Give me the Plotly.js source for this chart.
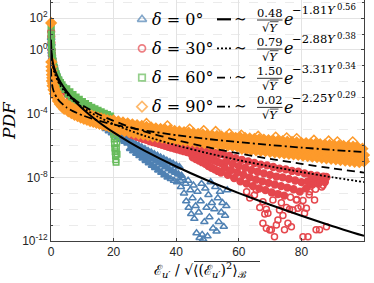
<!DOCTYPE html>
<html><head><meta charset="utf-8">
<script src="https://cdn.plot.ly/plotly-3.0.1.min.js"></script>
<style>html,body{margin:0;padding:0;background:#fff}#chart{width:374px;height:283px}</style>
</head><body><div id="chart"></div>
<script>
// ---------- data (x = E/sqrt<E^2>, value = log10(PDF)) ----------
const X_TICKS = [0, 20, 40, 60, 80, 100];
const Y_TICK_EXP = [-12, -8, -4, 0, 2];
const Y_TICK_TEXT = ['10<sup>-12</sup>', '10<sup>-8</sup>', '10<sup>-4</sup>', '10<sup>0</sup>', '10<sup>2</sup>'];
const Y_MINOR_EXP = [-11, -10, -9, -7, -6, -5, -3, -2, -1, 1, 3];

const SERIES_NAMES = ['δ = 0°', 'δ = 30°', 'δ = 60°', 'δ = 90°'];
const FIT_COEF = ['0.48', '0.79', '1.50', '0.02'];
const FIT_RATE = ['1.81', '2.88', '3.31', '2.25'];
const FIT_POW = ['0.56', '0.38', '0.34', '0.29'];

const FIT_X = [0.02,0.05,0.1,0.2,0.5,1,2,3,5,7,10,15,20,25,30,40,50,60,70,80,90,100];
const FIT_0_LOG = [0.44,0.18,-0.03,-0.29,-0.70,-1.10,-1.63,-2.01,-2.60,-3.08,-3.67,-4.49,-5.18,-5.79,-6.34,-7.32,-8.20,-8.99,-9.72,-10.41,-11.07,-11.68];
const FIT_30_LOG = [0.46,0.15,-0.12,-0.43,-0.91,-1.35,-1.88,-2.24,-2.76,-3.15,-3.60,-4.19,-4.66,-5.05,-5.40,-5.99,-6.48,-6.92,-7.31,-7.67,-8.00,-8.30];
const FIT_60_LOG = [0.65,0.31,0.02,-0.31,-0.81,-1.26,-1.79,-2.15,-2.66,-3.03,-3.47,-4.02,-4.45,-4.82,-5.13,-5.66,-6.11,-6.50,-6.84,-7.15,-7.44,-7.70];
const FIT_90_LOG = [-1.16,-1.46,-1.70,-1.96,-2.35,-2.68,-3.04,-3.28,-3.61,-3.84,-4.10,-4.43,-4.68,-4.88,-5.06,-5.35,-5.59,-5.79,-5.97,-6.13,-6.28,-6.41];

// dense part of each histogram (drawn as a solid band) and its sparse outliers
const CORE_0 = [
[0.05,0.75],[0.1,0.4],[0.15,0.1],[0.2,-0.1],[0.3,-0.3],[0.4,-0.45],[0.6,-0.7],[0.8,-0.9],[1.0,-1.0],[1.3,-1.25],[1.6,-1.4],[2.0,-1.6],[2.5,-1.8],[3.0,-2.0],[3.5,-2.15],[4.0,-2.3],[4.5,-2.45],
[5,-2.5],[5.5,-2.83],[6,-2.75],[6.5,-3.05],[7,-2.98],[7.5,-3.28],[8,-3.19],[8.5,-3.49],[9,-3.39],[9.5,-3.68],[10,-3.57],[10.5,-3.86],[11,-3.75],[11.5,-4.03],[12,-3.92],[12.5,-4.2],[13,-4.09],[13.5,-4.36],[14,-4.24],[14.5,-4.52],[15,-4.39],[15.5,-4.67],[16,-4.54],[16.5,-4.81],[17,-4.68],[17.5,-4.95],[18,-4.82],[18.5,-5.09],[19,-4.95],[19.5,-5.22],[20,-5.08],[20.5,-5.36],[21,-5.2],[21.5,-5.5],[22,-5.32],[22.5,-5.62],[23,-5.45],[23.5,-5.75],[24,-5.57],[24.5,-5.85],
[25,-5.69],[25.3,-6.2],[25.7,-5.95],[26,-5.8],[26.3,-6.35],[26.7,-6.08],[27,-5.91],[27.3,-6.5],[27.7,-6.2],[28,-6.02],[28.3,-6.65],[28.7,-6.35],[29,-6.13],[29.3,-6.8],[29.7,-6.47],[30,-6.24],[30.3,-6.95],[30.7,-6.6],[31,-6.34],[31.3,-7.1],[31.7,-6.72],[32,-6.44],[32.3,-7.25],[32.7,-6.85],[33,-6.55],[33.3,-7.4],[33.7,-6.98],[34,-6.65],[34.3,-7.55],[34.7,-7.1],[35,-6.75],[35.3,-7.7],[35.7,-7.22],[36,-6.85],[36.3,-7.85],[36.7,-7.35],[37,-6.95],[37.3,-8.0],[37.7,-7.48],[38,-7.05],[38.7,-7.6],[39,-7.15],[39.7,-7.7],[40,-7.25],[40.7,-7.8],[41,-7.35],[41.7,-7.9]
];
const TAIL_0 = [
[38.3,-8.1],[39.3,-8.2],[40.3,-8.3],[41.3,-8.2],
[41.5,-8.6],[42,-8.05],[42.5,-9.0],[43,-8.4],[43.2,-9.5],[43.8,-8.2],[44,-9.9],[44.5,-8.8],[44.8,-10.3],[45.2,-9.3],[45.5,-8.5],[45.8,-10.6],[46.2,-9.8],[46.5,-11.5],[46.8,-8.9],[47.2,-10.2],[47.5,-11.8],[47.8,-9.5],[48.1,-8.4],[48.3,-11.6],[48.6,-11.9],[49,-10.8],[49.3,-8.7],[49.7,-9.9],[50,-11.7],[50.3,-9.1],[50.6,-10.5],[51,-8.3],[51.4,-9.6],[51.8,-11.2],[52.2,-10.0],[52.5,-8.6],[52.9,-11.4],[53.3,-9.3],[53.6,-10.8],[54,-8.9],[54.4,-10.2],[54.8,-9.6],[55.2,-11.1],[55.6,-10.4],[56,-9.8],[56.3,-8.8]
];

const CORE_30 = [
[0.05,1.15],[0.08,0.85],[0.12,0.45],[0.2,0.0],[0.3,-0.3],[0.45,-0.65],[0.6,-0.85],[0.8,-1.05],[1.0,-1.25],[1.3,-1.45],[1.6,-1.6],[2.0,-1.8],[2.5,-2.0],[3,-2.15],[3.5,-2.35],[4,-2.45],[4.5,-2.6],
[5,-2.7],[6,-3.1],[7,-3.08],[8,-3.45],[9,-3.4],[10,-3.75],[11,-3.65],[12,-4.0],[13,-3.9],[14,-4.25],[15,-4.12],[16,-4.45],[17,-4.32],[18,-4.63],[19,-4.5],[20,-4.82],[21,-4.67],[22,-4.98],[23,-4.83],[24,-5.13],
[25,-4.95],[25.5,-5.3],[26,-5.0],[26.5,-5.37],[27,-5.07],[27.5,-5.45],[28,-5.14],[28.5,-5.52],[29,-5.21],[29.5,-5.59],[30,-5.28],[30.5,-5.65],[31,-5.34],[31.5,-5.72],[32,-5.41],[32.5,-5.78],[33,-5.47],[33.5,-5.84],[34,-5.53],[34.5,-5.9],[35,-5.59],[35.5,-5.96],[36,-5.65],[36.5,-6.02],[37,-5.71],[37.5,-6.08],[38,-5.77],[38.5,-6.14],[39,-5.82],[39.5,-6.19],[40,-5.87],[40.5,-6.25],[41,-5.92],[41.5,-6.3],[42,-5.97],[42.5,-6.36],[43,-6.02],[43.5,-6.41],[44,-6.07],[44.5,-6.47],[45,-6.12],[45.5,-6.52],[46,-6.17],[46.5,-6.58],[47,-6.22],[47.5,-6.64],[48,-6.27],[48.5,-6.7],[49,-6.32],[49.5,-6.76],[50,-6.36],[50.5,-6.83],[51,-6.41],[51.5,-6.9],[52,-6.45],[52.5,-6.97],[53,-6.5],[53.5,-7.05],[54,-6.54],[54.5,-7.12],
[45.3,-6.75],[46.3,-6.85],[47.3,-6.95],[48.3,-7.05],[49.3,-7.15],[50.3,-7.3],[51.3,-7.4],[52.3,-7.5],[53.3,-7.6],[54.3,-7.7],
[55,-6.55],[55.5,-7.4],[56,-7.0],[56.5,-7.85],[57,-6.65],[57.5,-7.55],[58,-7.15],[58.5,-8.05],[59,-6.8],[59.5,-7.7],[60,-7.3],[60.5,-8.25],[61,-6.9],[61.5,-7.85],[62,-7.4],[62.5,-8.4],[63,-7.0],[63.5,-8.0],[64,-7.55],[64.5,-8.55],[65,-7.1],[65.5,-8.15],[66,-7.65],[66.5,-8.7],[67,-7.2],[67.5,-8.25],[68,-7.75],[68.5,-8.8],[69,-7.25],[69.5,-8.35],[70,-7.85],[70.5,-8.95],[71,-7.35],[71.5,-8.45],[72,-7.95],[72.5,-9.05],[73,-7.45],[73.5,-8.55],[74,-8.0],[74.5,-9.15],[75,-7.5],[75.5,-8.65],[76,-8.1],[77,-7.6],[77.5,-8.75],[78,-8.2],[79,-7.65],[79.5,-8.9],[80,-8.3],[81,-7.75],[81.5,-8.7],[82,-8.25],[83,-7.85],[83.5,-8.45],[84,-8.2],[85,-7.9],[85.5,-8.4],[86,-8.15],[87,-7.95],[87.5,-8.3],[88,-8.0]
];
const TAIL_30 = [
[76.5,-9.25],[78.5,-9.4],[80.5,-9.45],[82.5,-9.1],[84.5,-8.75],[86.5,-8.6],
[62.5,-8.9],[63.5,-9.3],[65.0,-9.11],[65.6,-8.79],[66.7,-9.9],[67.7,-10.89],[67.7,-9.53],[68.3,-10.3],[68.8,-11.2],[68.8,-10.0],[69.3,-10.26],[69.9,-11.31],[70.4,-11.3],[70.9,-9.42],[71.4,-11.73],[72.0,-10.99],[72.5,-10.68],[73.0,-10.05],[73.6,-9.6],[74.1,-10.4],[74.6,-11.3],[75.2,-9.9],[75.7,-10.89],[76.2,-10.0],[76.8,-11.1],[77.3,-10.05],[78.4,-9.42],[78.9,-9.95],[79.9,-9.84],[80.5,-11.73],[81.0,-10.26],[81.6,-9.95],[82.1,-11.73],[82.6,-8.9],[83.1,-8.37],[84.2,-9.42],[84.7,-11.3],[84.7,-7.95],[85.8,-11.3],[86.3,-8.16],[86.9,-8.5],[87.9,-7.95],[88.0,-11.1]
];

const CORE_60 = [
[0.05,1.5],[0.08,1.0],[0.12,0.55],[0.2,0.15],[0.3,-0.15],[0.45,-0.5],[0.6,-0.7],[0.8,-0.95],[1.0,-1.1],[1.3,-1.35],[1.6,-1.5],[2.0,-1.7],[2.5,-1.9],[3.0,-2.05],[3.5,-2.2],[4.0,-2.35],[4.5,-2.48],
[5,-2.44],[5.5,-2.77],[6,-2.64],[6.5,-2.96],[7,-2.81],[7.5,-3.13],[8,-2.97],[8.5,-3.28],[9,-3.11],[9.5,-3.42],[10,-3.25],[10.5,-3.55],[11,-3.37],[11.5,-3.67],[12,-3.49],[12.5,-3.78],[13,-3.6],[13.5,-3.89],[14,-3.7],[14.5,-3.99],[15,-3.8],[15.5,-4.08],[16,-3.89],[16.5,-4.17],[17,-3.98],[17.5,-4.26],[18,-4.07],[18.5,-4.35],[19,-4.15],[19.5,-4.45]
];
const TAIL_60 = [
[19.7,-4.7],[19.9,-5.0],[20.0,-5.3],[20.2,-5.6],[20.3,-5.9],[20.4,-6.15],[20.5,-6.4],[20.6,-6.65],[20.7,-6.9],[20.8,-7.05],[20.9,-6.2],[21.0,-5.8],[20.6,-5.45],[21.1,-6.55]
];

const CORE_90 = [
[0.05,1.7],[0.1,-0.75],[0.15,-1.05],[0.2,-1.3],[0.3,-1.55],[0.4,-1.75],[0.55,-1.95],[0.7,-2.1],[0.9,-2.3],[1.1,-2.45],[1.4,-2.6],[1.7,-2.75],[2.0,-2.85],[2.5,-3.0],[3.0,-3.15],[3.5,-3.3],[4.0,-3.42],[4.5,-3.55],
[0.3,-1.95],[0.5,-2.25],[0.8,-2.5],[1.2,-2.75],[1.6,-2.95],[2.2,-3.2],[2.8,-3.4],[3.5,-3.55],[4.2,-3.7],
[5,-3.43],[5.5,-3.85],[6,-3.55],[6.5,-3.97],[7,-3.66],[7.5,-4.07],[8,-3.75],[8.5,-4.15],[9,-3.84],[9.5,-4.24],[10,-3.92],[10.5,-4.32],[11,-3.99],[11.5,-4.39],[12,-4.06],[12.5,-4.46],[13,-4.13],[13.5,-4.52],[14,-4.19],[14.5,-4.58],[15,-4.25],[15.5,-4.64],[16,-4.3],[16.5,-4.69],[17,-4.36],[17.5,-4.74],[18,-4.41],[18.5,-4.79],[19,-4.45],[19.5,-4.84],
[20,-4.43],[20.5,-4.98],[21,-4.74],[21.5,-4.49],[22,-5.04],[22.5,-4.80],[23,-4.55],[23.5,-5.10],[24,-4.86],[24.5,-4.61],[25,-5.16],[25.5,-4.92],[26,-4.67],[26.5,-5.21],[27,-4.97],[27.5,-4.72],[28,-5.27],[28.5,-5.03],[29,-4.77],[29.5,-5.32],[30,-5.08],[30.5,-4.83],[31,-5.37],[31.5,-5.13],[32,-4.87],[32.5,-5.42],[33,-5.17],[33.5,-4.92],[34,-5.46],[34.5,-5.22],[35,-4.96],[35.5,-5.50],[36,-5.26],[36.5,-5.00],[37,-5.55],[37.5,-5.30],[38,-5.04],[38.5,-5.59],[39,-5.34],[39.5,-5.09],[40,-5.63],[40.5,-5.38],[41,-5.12],[41.5,-5.67],[42,-5.42],[42.5,-5.16],[43,-5.70],[43.5,-5.45],[44,-5.20],[44.5,-5.74],[45,-5.49],[45.5,-5.23],[46,-5.77],[46.5,-5.53],[47,-5.27],[47.5,-5.81],[48,-5.56],[48.5,-5.30],[49,-5.85],[49.5,-5.60],[50,-5.34],[50.5,-5.88],[51,-5.63],[51.5,-5.37],[52,-5.91],[52.5,-5.66],[53,-5.40],[53.5,-5.94],[54,-5.69],[54.5,-5.43],[55,-5.97],[55.5,-5.72],[56,-5.46],[56.5,-6.00],[57,-5.75],[57.5,-5.49],[58,-6.03],[58.5,-5.78],[59,-5.52],[59.5,-6.06],[60,-5.81],
[60.5,-5.50],[61,-6.21],[61.5,-5.87],[62,-5.53],[62.5,-6.24],[63,-5.90],[63.5,-5.56],[64,-6.27],[64.5,-5.92],[65,-5.58],[65.5,-6.30],[66,-5.95],[66.5,-5.61],[67,-6.33],[67.5,-5.97],[68,-5.63],[68.5,-6.36],[69,-6.00],[69.5,-5.66],[70,-6.40],[70.5,-6.03],[71,-5.69],[71.5,-6.43],[72,-6.05],[72.5,-5.71],[73,-6.46],[73.5,-6.08],[74,-5.73],[74.5,-6.49],[75,-6.10],[75.5,-5.76],[76,-6.53],[76.5,-6.13],[77,-5.78],[77.5,-6.56],[78,-6.15],[78.5,-5.81],[79,-6.59],[79.5,-6.18],[80,-5.83],[80.5,-6.63],[81,-6.21],[81.5,-5.85],[82,-6.66],[82.5,-6.23],[83,-5.88],[83.5,-6.70],[84,-6.26],[84.5,-5.90],[85,-6.73],[85.5,-6.29],[86,-5.92],[86.5,-6.77],[87,-6.31],[87.5,-5.94],[88,-6.80],[88.5,-6.34],[89,-5.97],[89.5,-6.84],[90,-6.37],[90.5,-5.99],[91,-6.87],[91.5,-6.39],[92,-6.01],[92.5,-6.91],[93,-6.42],[93.5,-6.03],[94,-6.95],[94.5,-6.45],[95,-6.05],[95.5,-6.98],[96,-6.47],[96.5,-6.08],[97,-7.02],[97.5,-6.52],[98,-6.12],[98.5,-7.05],[99,-6.58],[99.5,-6.20],[100,-7.0],[99.7,-6.85],[100,-6.6]
];
const TAIL_90 = [
[30.5,-4.6],[37.2,-4.75],[44.3,-4.95],[48.8,-5.05],[52.6,-5.1],[57,-5.25],[60.8,-5.33],[66.2,-5.4],[71.8,-5.45],[75.3,-5.5],[78.5,-5.55],[84,-5.65],[88.7,-5.7],[91.5,-5.75],[96.4,-5.75]
];

// ---------- styling ----------
const COLORS = ['#4f81b3', '#e5474d', '#66bb5a', '#fd9a2b'];
const OPEN_SYMBOLS = [105, 100, 101, 102];   // triangle-up-open, circle-open, square-open, diamond-open
const FILL_SYMBOLS = [5, 0, 1, 2];           // triangle-up, circle, square, diamond
const CORE_SIZES = [6.5, 6.5, 5.5, 7.5];
const OPEN_SIZES = [6.5, 6, 5.5, 7];
const DASHES = ['solid', '2px,2px', '8px,5px', '8px,3px,2px,3px'];
const ALL_CORE = [CORE_0, CORE_30, CORE_60, CORE_90];
const ALL_TAIL = [TAIL_0, TAIL_30, TAIL_60, TAIL_90];
const ALL_FITS = [FIT_0_LOG, FIT_30_LOG, FIT_60_LOG, FIT_90_LOG];

const toPdf = v => Math.pow(10, v);
const traces = [];
for (let i = 0; i < 4; i++) {
  const core = ALL_CORE[i], tail = ALL_TAIL[i];
  traces.push({
    type: 'scatter', mode: 'markers', name: SERIES_NAMES[i] + ' core',
    x: core.map(p => p[0]), y: core.map(p => toPdf(p[1])),
    marker: {symbol: FILL_SYMBOLS[i], size: CORE_SIZES[i], color: COLORS[i], opacity: 1,
             line: {width: 1.8, color: COLORS[i]}},
    cliponaxis: false, hoverinfo: 'skip'
  });
  traces.push({
    type: 'scatter', mode: 'markers', name: SERIES_NAMES[i] + ' outliers',
    x: tail.map(p => p[0]), y: tail.map(p => toPdf(p[1])),
    marker: {symbol: OPEN_SYMBOLS[i], size: OPEN_SIZES[i], color: COLORS[i],
             line: {width: 1.5, color: COLORS[i]}},
    cliponaxis: false, hoverinfo: 'skip'
  });
}
for (let i = 0; i < 4; i++) {
  traces.push({
    type: 'scatter', mode: 'lines', x: FIT_X, y: ALL_FITS[i].map(toPdf),
    line: {color: '#000', width: i === 0 ? 2 : 1.8, dash: DASHES[i], shape: 'spline', smoothing: 0.6},
    hoverinfo: 'skip'
  });
}

// plot-area geometry in pixels
const L = 51, T = 0, W = 313, H = 241;
const px = x => (x - L) / W;
const py = y => (T + H - y) / H;
const ROWS = [19.3, 48.3, 77.6, 106.7];
// legend keys drawn on an invisible overlay axis pair
traces.push({
  type: 'scatter', mode: 'markers', xaxis: 'x2', yaxis: 'y2',
  x: ROWS.map(() => px(142)), y: ROWS.map(r => py(r)),
  marker: {symbol: OPEN_SYMBOLS, size: [8, 7, 6.5, 8], color: COLORS, line: {width: 1.7, color: COLORS}},
  cliponaxis: false, hoverinfo: 'skip'
});

const SERIF = 'DejaVu Serif, serif';
const annotations = [];
const shapes = [];
function ann(text, x, y, size, xanchor, extra) {
  const a = xanchor || 'center';
  annotations.push(Object.assign({xref: 'paper', yref: 'paper', x: px(x), y: py(y), text: text, showarrow: false,
    font: {family: SERIF, size: size, color: '#000'}, xanchor: a, align: a, yanchor: 'middle', borderpad: 0}, extra || {}));
}
function hline(x0, x1, y, w, dash) {
  shapes.push({type: 'line', xref: 'paper', yref: 'paper', x0: px(x0), x1: px(x1), y0: py(y), y1: py(y),
    line: {color: '#000', width: w, dash: dash || 'solid'}});
}
ROWS.forEach((r, i) => {
  const parts = SERIES_NAMES[i].split(' = ');
  ann('<i>' + parts[0] + '</i> = ' + parts[1], 151, r, 16, 'left');
  hline(217, 231, r, i === 0 ? 2.2 : 1.8, DASHES[i]);
  ann('∼', 240, r - 0.5, 15);
  ann(FIT_COEF[i], 269.5, r - 6.5, 11.5);
  hline(257, 282.5, r + 0.7, 0.8);
  ann('√<i>Y</i>', 270, r + 8.5, 11.5);
  hline(269.8, 278.5, r + 2.4, 0.7);
  ann('<i>e</i>', 288, r + 0.5, 16);
  ann('−' + FIT_RATE[i] + '<i>Y</i>', 337, r - 9, 11.5, 'right');
  ann(FIT_POW[i], 357, r - 12, 8.5, 'right');
});
// axis titles
ann('<i>PDF</i>', 9, 121, 17, 'center', {textangle: -90});
ann('ℰ<sub><i>u′</i></sub> / √⟨(ℰ<sub><i>u′</i></sub>)<sup>2</sup>⟩<sub>ℬ</sub>', 200, 270, 14);
hline(194, 260, 261.5, 0.8);

const AX = '#404040';
const layout = {
  width: 374, height: 283, margin: {l: L, r: 374 - L - W, t: T, b: 283 - T - H},
  paper_bgcolor: '#fff', plot_bgcolor: '#fff', showlegend: false,
  xaxis: {range: [0, 100], tickvals: X_TICKS, ticks: 'inside', ticklen: 3, tickcolor: AX,
    showline: true, linecolor: AX, linewidth: 1, mirror: false, showgrid: true, gridcolor: '#e3e3e3', gridwidth: 1,
    zeroline: false, tickfont: {family: 'Liberation Sans, Arial, sans-serif', size: 12, color: '#262626'}},
  yaxis: {type: 'log', range: [-12, 3.14], tickvals: Y_TICK_EXP.map(toPdf), ticktext: Y_TICK_TEXT,
    ticks: 'inside', ticklen: 3, tickcolor: AX, showline: true, linecolor: AX, linewidth: 1, mirror: 'ticks',
    showgrid: true, gridcolor: '#e3e3e3', gridwidth: 1, zeroline: false,
    minor: {tickvals: Y_MINOR_EXP.map(toPdf), showgrid: true, gridcolor: '#ebebeb', griddash: 'dash', ticks: 'inside', ticklen: 2, tickcolor: AX},
    tickfont: {family: 'Liberation Sans, Arial, sans-serif', size: 12, color: '#262626'}},
  xaxis2: {overlaying: 'x', range: [0, 1], visible: false},
  yaxis2: {overlaying: 'y', range: [0, 1], visible: false},
  annotations: annotations, shapes: shapes
};
Plotly.newPlot('chart', traces, layout, {staticPlot: true, displayModeBar: false});
</script></body></html>
